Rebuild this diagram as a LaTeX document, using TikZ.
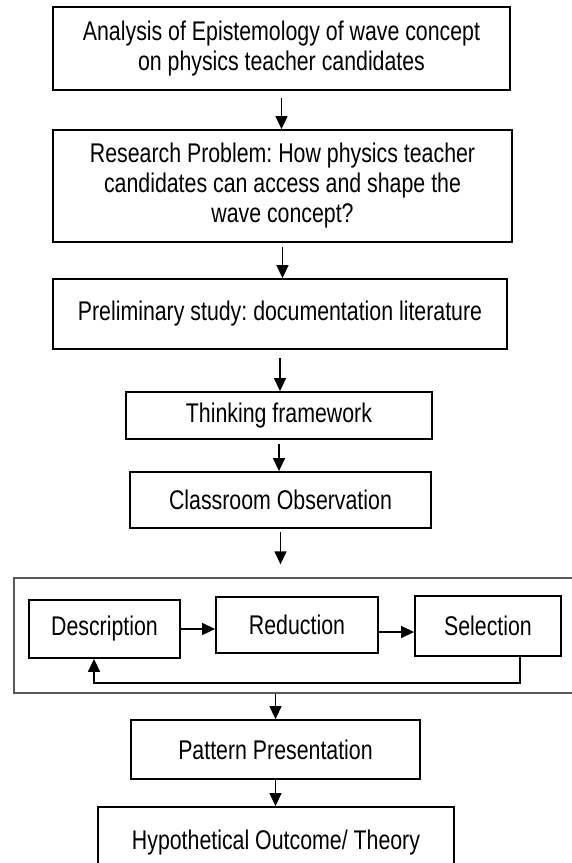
\documentclass[tikz,border=0pt]{standalone}
\usepackage{fontspec}
\setmainfont[FakeStretch=0.79]{Liberation Sans}
\usetikzlibrary{arrows.meta}
\begin{document}
\frenchspacing
\begin{tikzpicture}[x=1pt,y=-1pt,
  box/.style={draw, line width=1.8pt, inner sep=0pt, align=center,
    font=\fontsize{27}{30}\selectfont},
  arr/.style={-{Triangle[width=12pt,length=13pt]}, line width=1.3pt},
  grpbox/.style={draw=black!65, line width=1.3pt, inner sep=0pt}]
\useasboundingbox (0,0) rectangle (572,863);
\clip (0,0) rectangle (572,863);
\fill[white] (0,0) rectangle (572,863);

\node[box, minimum width=457pt, minimum height=83pt] (b1) at (281.5,48.5)
  {Analysis of Epistemology of wave concept\\on physics teacher candidates};
\node[box, minimum width=459pt, minimum height=112pt] (b2) at (282.5,186)
  {Research Problem: How physics teacher\\candidates can access and shape the\\wave concept?};
\node[box, minimum width=454pt, minimum height=70pt] (b3) at (280,314)
  {Preliminary study: documentation literature};
\node[box, minimum width=306pt, minimum height=47pt] (b4) at (279,415.5)
  {Thinking framework};
\node[box, minimum width=301pt, minimum height=56pt] (b5) at (280.5,500)
  {Classroom Observation};

\node[grpbox, minimum width=560pt, minimum height=115pt] (grp) at (294,635.5) {};
\node[box, minimum width=151pt, minimum height=58pt] (desc) at (104.5,629) {Description};
\node[box, minimum width=162pt, minimum height=56pt] (red) at (297,625) {Reduction};
\node[box, minimum width=146pt, minimum height=60pt] (sel) at (488,626) {Selection};

\node[box, minimum width=289pt, minimum height=59pt] (pat) at (275.5,749.5) {Pattern Presentation};
\node[box, minimum width=356pt, minimum height=72pt] (hyp) at (276,843) {Hypothetical Outcome/ Theory};

\draw[arr, shorten <=7pt] (b1.south) -- (b1.south |- b2.north);
\draw[arr, shorten <=4pt] (b2.south) -- (b2.south |- b3.north);
\draw[arr, shorten <=8pt] (b3.south) -- (b3.south |- b4.north);
\draw[arr, shorten <=4pt] (b4.south) -- (b4.south |- b5.north);
\draw[arr, shorten <=3pt, shorten >=13pt] (b5.south) -- (b5.south |- grp.north);

\draw[arr] (desc.east) -- (desc.east -| red.west);
\draw[arr] ([yshift=-7pt]red.east) -- ([yshift=-7pt]red.east -| sel.west);
\draw[arr, line width=1.6pt] ([xshift=32pt]sel.south) |- ([xshift=-10.5pt,yshift=-24pt]desc.south)
  -- ([xshift=-10.5pt]desc.south);

\draw[arr] (pat.north |- grp.south) -- (pat.north);
\draw[arr] (pat.south) -- (pat.south |- hyp.north);
\end{tikzpicture}
\end{document}
